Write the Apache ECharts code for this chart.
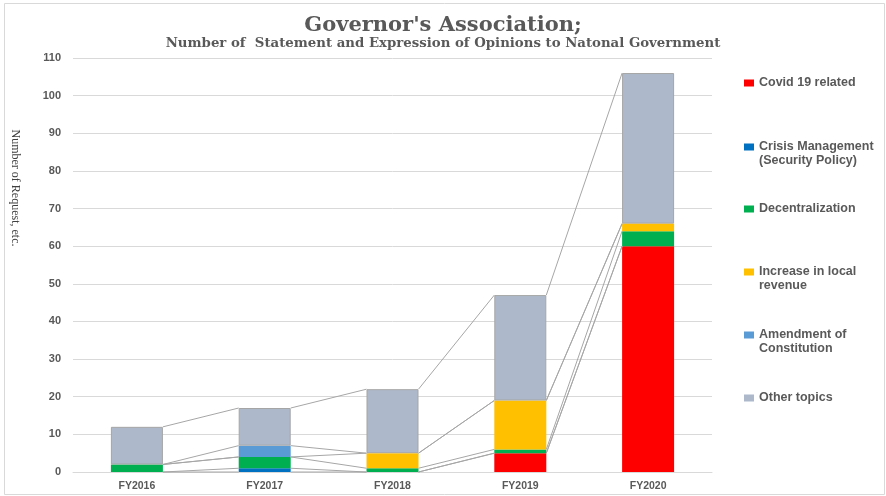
<!DOCTYPE html>
<html>
<head>
<meta charset="utf-8">
<script src="https://cdn.jsdelivr.net/npm/echarts@6/dist/echarts.min.js"></script>
<style>html,body{margin:0;padding:0;background:#fff}#c{width:886px;height:496px}</style>
</head>
<body>
<div id="c"></div>
<script>
var categories = ['FY2016', 'FY2017', 'FY2018', 'FY2019', 'FY2020'];
var covid = [0, 0, 0, 5, 60];
var crisis = [0, 1, 0, 0, 0];
var decentral = [2, 3, 1, 1, 4];
var revenue = [0, 0, 4, 13, 2];
var amendment = [0, 3, 0, 0, 0];
var other = [10, 10, 17, 28, 40];
var seriesNames = ['Covid 19 related', 'Crisis Management (Security Policy)', 'Decentralization', 'Increase in local revenue', 'Amendment of Constitution', 'Other topics'];
var legendLabels = ['Covid 19 related', 'Crisis Management\n(Security Policy)', 'Decentralization', 'Increase in local\nrevenue', 'Amendment of\nConstitution', 'Other topics'];
var yTicks = { min: 0, max: 110, interval: 10 };

var colors = ['#FF0000', '#0070C0', '#00B050', '#FFC000', '#5B9BD5', '#ADB9CA'];
var allSeries = [covid, crisis, decentral, revenue, amendment, other];

// cumulative tops for series lines
var cum = [];
var running = categories.map(function () { return 0; });
allSeries.forEach(function (arr) {
  running = running.map(function (r, i) { return r + arr[i]; });
  cum.push(running.slice());
});
var lineData = [];
cum.forEach(function (tops) {
  for (var i = 0; i < categories.length - 1; i++) {
    lineData.push([i, tops[i], tops[i + 1]]);
  }
});

var BAR_W = 52;
var textColor = '#595959';
var sans = 'Liberation Sans, Arial, sans-serif';

var series = allSeries.map(function (arr, k) {
  var s = {
    name: seriesNames[k],
    type: 'bar',
    stack: 'total',
    barWidth: BAR_W,
    data: arr,
    itemStyle: { color: colors[k] },
    z: 2
  };
  if (k === 5) { s.itemStyle.borderColor = '#A5A5A5'; s.itemStyle.borderWidth = 1; }
  return s;
});
series.push({
  type: 'custom',
  name: 'serieslines',
  silent: true,
  z: 3,
  encode: { x: 0, y: [1, 2] },
  data: lineData,
  renderItem: function (params, api) {
    var i = api.value(0);
    var p1 = api.coord([i, api.value(1)]);
    var p2 = api.coord([i + 1, api.value(2)]);
    var h = BAR_W / 2;
    return {
      type: 'line',
      shape: { x1: p1[0] + h, y1: p1[1], x2: p2[0] - h, y2: p2[1] },
      style: { stroke: '#A6A6A6', lineWidth: 1 }
    };
  }
});

var iconCenters = [83, 147, 209, 272, 335, 398];
var legends = seriesNames.map(function (n, k) {
  var two = legendLabels[k].indexOf('\n') >= 0;
  return {
    data: [n],
    left: 744,
    top: two ? iconCenters[k] - 21 : iconCenters[k] - 7,
    padding: 0,
    icon: 'rect',
    itemWidth: 10,
    itemHeight: 7,
    selectedMode: false,
    itemStyle: { borderWidth: 0 },
    formatter: function () { return two ? '\n' + legendLabels[k] : legendLabels[k]; },
    textStyle: {
      color: textColor, fontFamily: sans, fontWeight: 'bold', fontSize: 12.5, lineHeight: 14
    }
  };
});

var option = {
  animation: false,
  color: colors,
  title: [
    { text: "Governor's Association;", left: 'center', top: 15, padding: 0,
      textStyle: { fontFamily: 'DejaVu Serif, serif', fontWeight: 'bold', fontSize: 21, color: textColor } },
    { text: 'Number of  Statement and Expression of Opinions to Natonal Government', left: 'center', top: 37, padding: 0,
      textStyle: { fontFamily: 'DejaVu Serif, serif', fontWeight: 'bold', fontSize: 13.3, color: textColor } }
  ],
  legend: legends,
  grid: { left: 73, right: 174, top: 58, bottom: 24, containLabel: false },
  xAxis: {
    type: 'category',
    data: categories,
    axisLine: { lineStyle: { color: '#D9D9D9' } },
    axisTick: { show: false },
    axisLabel: { color: textColor, fontFamily: sans, fontWeight: 'bold', fontSize: 10.5, margin: 9 }
  },
  yAxis: {
    type: 'value',
    min: yTicks.min, max: yTicks.max, interval: yTicks.interval,
    axisLine: { show: false },
    axisTick: { show: false },
    splitLine: { lineStyle: { color: '#D9D9D9' } },
    axisLabel: { color: textColor, fontFamily: sans, fontWeight: 'bold', fontSize: 11, margin: 12 }
  },
  graphic: [
    { type: 'rect', shape: { x: 4.5, y: 3.5, width: 880, height: 491 }, style: { fill: null, stroke: '#D9D9D9', lineWidth: 1 }, silent: true, z: -1 },
    { type: 'text', x: 15, y: 188, rotation: -Math.PI / 2,
      style: { text: 'Number of Request, etc.', fontFamily: 'Liberation Serif, Times New Roman, serif', fontSize: 12, fill: '#404040', align: 'center', verticalAlign: 'middle' } }
  ],
  series: series
};
echarts.init(document.getElementById('c')).setOption(option);
</script>
</body>
</html>
